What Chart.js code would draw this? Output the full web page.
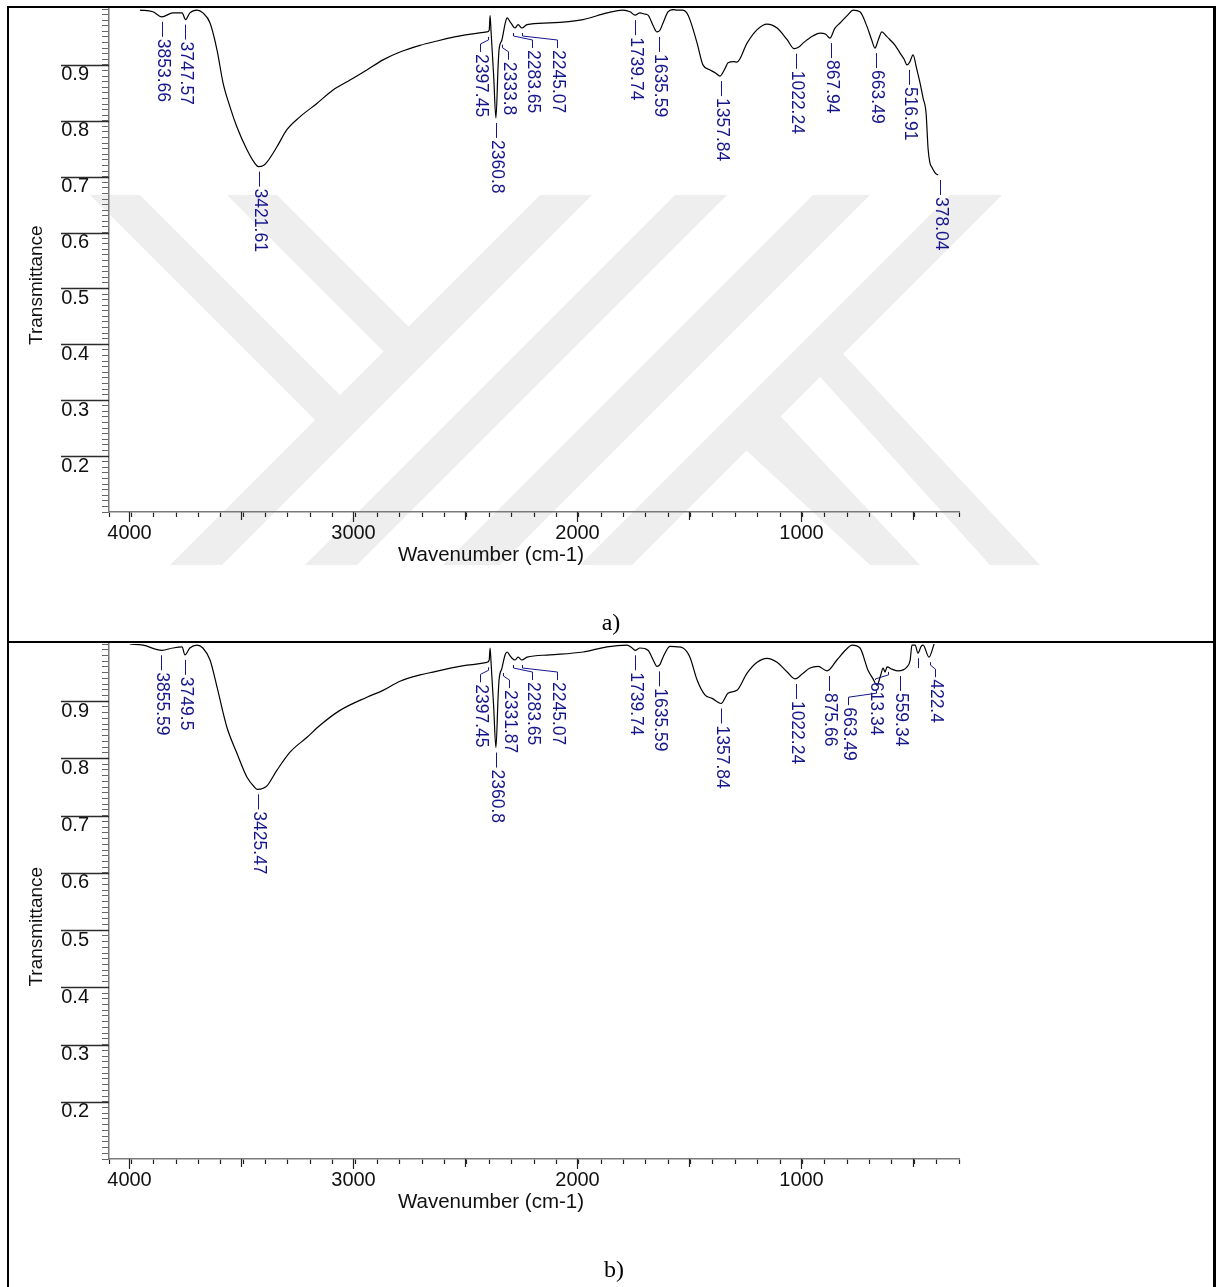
<!DOCTYPE html>
<html>
<head>
<meta charset="utf-8">
<title>FTIR spectra a) and b)</title>
<script src="https://cdn.jsdelivr.net/npm/chart.js@4.4.1/dist/chart.umd.min.js"></script>
<style>
  html, body { margin: 0; padding: 0; background: #fff; }
  #page { position: relative; width: 1217px; height: 1287px; overflow: hidden; background: #fff; }
  #wm { position: absolute; left: 0; top: 0; z-index: 0; }
  canvas { position: absolute; left: 0; z-index: 1; }
  #chartA { top: 0; }
  #chartB { top: 641px; }
  .rule { position: absolute; background: #000; z-index: 2; }
  .cap { position: absolute; width: 80px; text-align: center; z-index: 2;
         font-family: 'Liberation Serif', 'Times New Roman', serif; font-size: 24px; color: #000; }
</style>
</head>
<body>
<div id="page">
  <!-- thesis watermark behind the charts -->
  <svg id="wm" width="1217" height="1287">
    <g fill="#eeeeee">
      <polygon points="170,565 222,565 592,195 540,195"/>
      <polygon points="305,565 357,565 727,195 675,195"/>
      <polygon points="443,565 500,565 870,195 813,195"/>
      <polygon points="580,565 632,565 1002,195 950,195"/>
      <polygon points="90,195 140,195 360,415 335,440"/>
      <polygon points="227,195 277,195 420,338 395,363"/>
      <polygon points="735,440 770,405 920,565 870,565"/>
      <polygon points="812,368 835,345 1040,565 990,565"/>
    </g>
  </svg>
  <canvas id="chartA" width="1217" height="640"></canvas>
  <canvas id="chartB" width="1217" height="646"></canvas>
  <div class="rule" style="left:7px; top:6px; width:1209px; height:2px;"></div>
  <div class="rule" style="left:7px; top:6px; width:2px; height:1281px;"></div>
  <div class="rule" style="left:1213px; top:6px; width:3px; height:1281px;"></div>
  <div class="rule" style="left:7px; top:641px; width:1209px; height:2px;"></div>
  <div class="cap" style="left:571px; top:609px;">a)</div>
  <div class="cap" style="left:574px; top:1256px;">b)</div>
</div>

<script>
// Spectrum a) - wavenumber (cm-1) and transmittance
const wnA = [3951, 3893, 3853, 3804, 3763, 3747, 3728, 3696, 3670, 3638, 3607, 3580, 3549, 3518, 3473, 3440,
  3422, 3400, 3384, 3340, 3295, 3237, 3161, 3089, 3013, 2938, 2866, 2790, 2701, 2643, 2491, 2402, 2392, 2388,
  2384, 2372, 2362, 2352, 2348, 2335, 2320, 2312, 2300, 2290, 2277, 2263, 2246, 2223, 2121, 1973, 1866, 1795,
  1763, 1741, 1719, 1700, 1683, 1660, 1643, 1630, 1616, 1594, 1570, 1554, 1527, 1510, 1496, 1464, 1438, 1406,
  1380, 1362, 1340, 1326, 1300, 1286, 1241, 1196, 1152, 1107, 1062, 1031, 1010, 991, 946, 915, 890, 871, 850,
  826, 790, 768, 737, 705, 685, 670, 655, 639, 620, 603, 580, 558, 540, 527, 515, 500, 485, 469, 455, 442, 433,
  425, 415, 400, 388];
const tA = [0.998, 0.995, 0.986, 0.993, 0.993, 0.981, 0.993, 0.998, 0.993, 0.975, 0.927, 0.868, 0.825, 0.789,
  0.748, 0.725, 0.718, 0.720, 0.726, 0.753, 0.784, 0.807, 0.831, 0.855, 0.873, 0.891, 0.909, 0.923, 0.935, 0.941,
  0.954, 0.959, 0.962, 0.988, 0.962, 0.880, 0.805, 0.900, 0.927, 0.945, 0.975, 0.984, 0.978, 0.972, 0.966, 0.972,
  0.966, 0.972, 0.975, 0.981, 0.993, 0.998, 0.995, 0.989, 0.993, 0.991, 0.989, 0.970, 0.959, 0.962, 0.975, 0.995,
  0.999, 0.998, 0.998, 0.993, 0.981, 0.939, 0.900, 0.891, 0.885, 0.880, 0.893, 0.904, 0.906, 0.905, 0.939, 0.963,
  0.973, 0.966, 0.945, 0.929, 0.932, 0.939, 0.952, 0.957, 0.955, 0.948, 0.965, 0.975, 0.990, 0.998, 0.995, 0.968,
  0.945, 0.930, 0.945, 0.959, 0.952, 0.945, 0.935, 0.921, 0.910, 0.900, 0.905, 0.918, 0.895, 0.868, 0.840, 0.814,
  0.750, 0.725, 0.716, 0.706, 0.703];

// Spectrum b)
const wnB = [3996, 3937, 3853, 3804, 3763, 3750, 3728, 3696, 3670, 3638, 3607, 3563, 3518, 3473, 3440, 3427,
  3400, 3384, 3340, 3281, 3205, 3147, 3058, 2938, 2866, 2790, 2701, 2643, 2491, 2402, 2392, 2388, 2384, 2372,
  2362, 2352, 2348, 2335, 2320, 2312, 2300, 2290, 2277, 2263, 2246, 2223, 2121, 1973, 1866, 1777, 1754, 1741,
  1719, 1683, 1660, 1643, 1630, 1616, 1585, 1554, 1527, 1496, 1464, 1429, 1397, 1357, 1326, 1286, 1241, 1196,
  1152, 1107, 1062, 1027, 991, 960, 924, 884, 840, 800, 772, 737, 701, 680, 661, 645, 634, 625, 616, 594, 567,
  527, 513, 505, 491, 478, 464, 455, 429, 406];
const tB = [1.0, 0.998, 0.989, 0.993, 0.995, 0.981, 0.993, 0.998, 0.993, 0.972, 0.925, 0.855, 0.809, 0.767, 0.750,
  0.746, 0.748, 0.752, 0.779, 0.811, 0.837, 0.858, 0.884, 0.907, 0.919, 0.935, 0.946, 0.951, 0.963, 0.968, 0.972,
  0.993, 0.970, 0.890, 0.819, 0.910, 0.937, 0.958, 0.982, 0.986, 0.980, 0.975, 0.972, 0.977, 0.972, 0.977, 0.981,
  0.986, 0.995, 0.998, 0.993, 0.989, 0.993, 0.989, 0.972, 0.961, 0.964, 0.977, 0.996, 0.995, 0.993, 0.977, 0.937,
  0.911, 0.905, 0.896, 0.914, 0.919, 0.949, 0.968, 0.975, 0.968, 0.951, 0.939, 0.949, 0.958, 0.961, 0.953, 0.972,
  0.990, 0.998, 0.993, 0.954, 0.940, 0.928, 0.945, 0.958, 0.951, 0.960, 0.956, 0.953, 0.960, 0.972, 0.998, 0.998,
  0.984, 0.996, 0.998, 0.977, 1.0];

// Peak picks
const peakWnA = [3853.66, 3747.57, 3421.61, 2397.45, 2360.8, 2333.8, 2283.65, 2245.07, 1739.74, 1635.59, 1357.84,
  1022.24, 867.94, 663.49, 516.91, 378.04];
const peakTA = [0.986, 0.981, 0.718, 0.959, 0.805, 0.945, 0.966, 0.966, 0.989, 0.959, 0.880, 0.929, 0.948, 0.930,
  0.900, 0.703];
const peakTextA = peakWnA.map(String);

const peakWnB = [3855.59, 3749.5, 3425.47, 2397.45, 2360.8, 2331.87, 2283.65, 2245.07, 1739.74, 1635.59, 1357.84,
  1022.24, 875.66, 663.49, 613.34, 559.34, 478, 422.4];
const peakTB = [0.989, 0.981, 0.746, 0.968, 0.819, 0.958, 0.972, 0.972, 0.989, 0.961, 0.896, 0.939, 0.953, 0.928,
  0.960, 0.953, 0.984, 0.977];
const peakTextB = ['3855.59', '3749.5', '3425.47', '2397.45', '2360.8', '2331.87', '2283.65', '2245.07', '1739.74',
  '1635.59', '1357.84', '1022.24', '875.66', '663.49', '613.34', '559.34', '', '422.4'];

// Axis ticks
const yMajor = [0.2, 0.3, 0.4, 0.5, 0.6, 0.7, 0.8, 0.9];
const xMajor = [4000, 3000, 2000, 1000];
const xHalf = [3500, 2500, 1500, 500];

// Label layout: sideways shift (px) of crowded labels, and vertical tweak
const shiftA = { '2397.45': -8, '2333.8': 6, '2283.65': 19, '2245.07': 35 };
const shiftB = { '2397.45': -8, '2331.87': 6, '2283.65': 19, '2245.07': 35, '663.49': -28, '613.34': -13, '422.4': 5 };
const dropA = {};
const dropB = { '613.34': -7 };

const FONT = "Arial, 'Liberation Sans', Helvetica, sans-serif";
const LABEL_BLUE = '#16168c';

function ftirOverlay(peakWn, peakT, peakText, shift, drop) {
  return {
    id: 'ftirOverlay',
    afterDraw(chart) {
      const { ctx, chartArea: area } = chart;
      const xs = chart.scales.x, ys = chart.scales.y;
      ctx.save();

      // long major ticks on the transmittance axis
      ctx.strokeStyle = '#2b2b2b';
      ctx.lineWidth = 1.3;
      yMajor.forEach(v => {
        const py = Math.round(ys.getPixelForValue(v)) + 0.5;
        ctx.beginPath(); ctx.moveTo(61, py); ctx.lineTo(area.left, py); ctx.stroke();
      });

      // longer wavenumber ticks every 1000 / 500, labels at the 1000s
      ctx.strokeStyle = '#222';
      ctx.lineWidth = 1.2;
      ctx.fillStyle = '#111';
      ctx.font = '20px ' + FONT;
      ctx.textAlign = 'center';
      ctx.textBaseline = 'middle';
      xMajor.concat(xHalf).forEach(v => {
        const px = Math.round(xs.getPixelForValue(v)) + 0.5;
        const major = xMajor.includes(v);
        ctx.beginPath(); ctx.moveTo(px, area.bottom); ctx.lineTo(px, area.bottom + (major ? 10 : 8)); ctx.stroke();
        if (major) ctx.fillText(String(v), px, area.bottom + 21.5);
      });

      // axis titles
      ctx.font = '20.5px ' + FONT;
      ctx.fillText('Wavenumber (cm-1)', area.left + 382, area.bottom + 43);
      ctx.font = '19px ' + FONT;
      ctx.save();
      ctx.translate(37, area.top + area.height * 0.549);
      ctx.rotate(-Math.PI / 2);
      ctx.fillText('Transmittance', 0, 0);
      ctx.restore();

      // peak labels with leader lines
      ctx.strokeStyle = LABEL_BLUE;
      ctx.fillStyle = LABEL_BLUE;
      ctx.lineWidth = 1;
      ctx.font = '17.5px ' + FONT;
      ctx.textAlign = 'left';
      peakWn.forEach((w, i) => {
        const text = peakText[i];
        const px = Math.round(xs.getPixelForValue(w)) + 0.5;
        const py = ys.getPixelForValue(peakT[i]);
        const dx = shift[text] || 0;
        const top = py + 22 + (drop[text] || 0);
        ctx.beginPath();
        ctx.moveTo(px, py + 5);
        if (!text) {
          ctx.lineTo(px, py + 15);
        } else if (dx === 0) {
          ctx.lineTo(px, top - 2);
        } else {
          ctx.lineTo(px, py + 8);
          ctx.lineTo(px + dx, py + 12);
          ctx.lineTo(px + dx, top - 2);
        }
        ctx.stroke();
        if (text) {
          ctx.save();
          ctx.translate(px + dx, top);
          ctx.rotate(Math.PI / 2);
          ctx.fillText(text, 0, 0);
          ctx.restore();
        }
      });
      ctx.restore();
    }
  };
}

function makeSpectrum(canvasId, wn, tr, topPad, overlay) {
  const points = wn.map((w, i) => ({ x: w, y: tr[i] }));
  return new Chart(document.getElementById(canvasId), {
    type: 'scatter',
    data: {
      datasets: [{
        data: points,
        showLine: true,
        borderColor: '#000',
        borderWidth: 1.2,
        pointRadius: 0,
        cubicInterpolationMode: 'monotone'
      }]
    },
    options: {
      responsive: false,
      animation: false,
      events: [],
      layout: { padding: { left: 0, right: 258, top: topPad, bottom: 0 } },
      plugins: { legend: { display: false }, tooltip: { enabled: false } },
      scales: {
        x: {
          type: 'linear',
          reverse: true,
          min: 295,
          max: 4089,
          afterFit(s) { s.height = 128; s.paddingLeft = 0; s.paddingRight = 0; },
          border: { display: true, color: '#7a7a7a', width: 1.5 },
          grid: { drawOnChartArea: false, drawTicks: true, tickLength: 5, tickColor: '#222', tickWidth: 1.2 },
          ticks: {
            stepSize: 100,
            autoSkip: false,
            includeBounds: false,
            maxRotation: 0,
            display: false
          }
        },
        y: {
          type: 'linear',
          min: 0.1,
          max: 1.0,
          afterFit(s) { s.width = 109; s.paddingTop = 0; s.paddingBottom = 0; },
          border: { display: true, color: '#7a7a7a', width: 1.5 },
          grid: { drawOnChartArea: false, drawTicks: true, tickLength: 7, tickColor: '#666', tickWidth: 1 },
          ticks: {
            stepSize: 0.01,
            autoSkip: false,
            includeBounds: false,
            padding: 13,
            labelOffset: 10,
            color: '#111',
            font: { family: FONT, size: 20 },
            callback: v => {
              const r = Math.round(v * 100);
              return (r % 10 === 0 && r >= 20 && r <= 90) ? (r / 100).toFixed(1) : '';
            }
          }
        }
      }
    },
    plugins: [overlay]
  });
}

makeSpectrum('chartA', wnA, tA, 9, ftirOverlay(peakWnA, peakTA, peakTextA, shiftA, dropA));
makeSpectrum('chartB', wnB, tB, 3, ftirOverlay(peakWnB, peakTB, peakTextB, shiftB, dropB));
</script>
</body>
</html>
